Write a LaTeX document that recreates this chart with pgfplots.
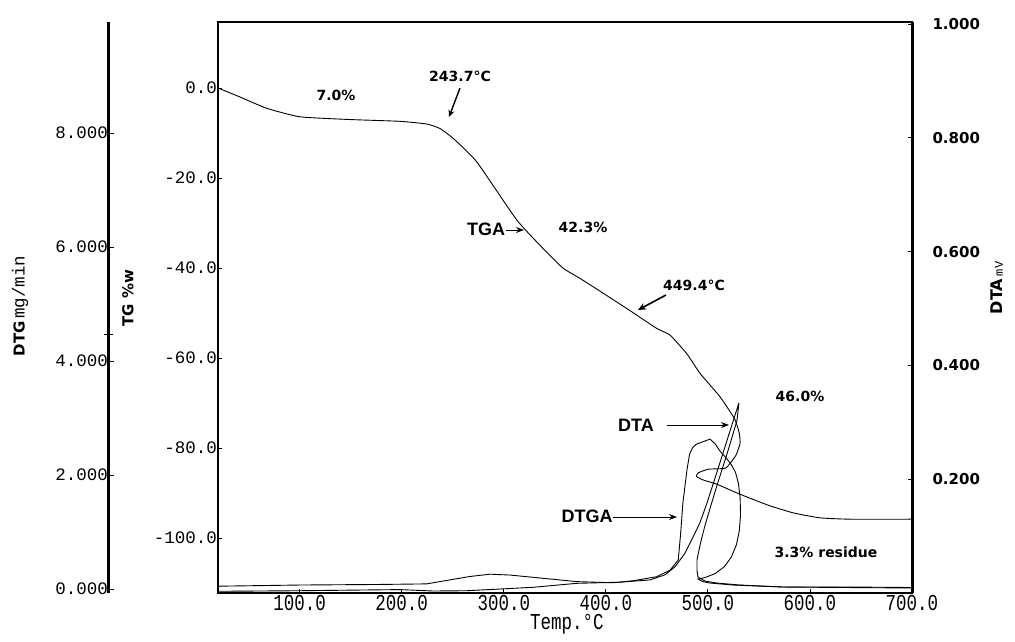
\documentclass[border=0pt]{standalone}
\usepackage{pgfplots}
\pgfplotsset{compat=1.18}
\usepackage{fontspec}
\usepackage{graphicx}
\setmainfont{Liberation Sans}
\setmonofont{Liberation Mono}
\newfontfamily\hand{DejaVu Sans}
\newfontfamily\arial{Liberation Sans}
\usetikzlibrary{arrows.meta}
\pgfplotsset{
  thermoframe/.style={at={(0pt,0pt)}, anchor=south west, scale only axis,
    width=694pt, height=571pt, xmin=20, xmax=700, clip=false},
}
\newcommand{\hw}{\hand\bfseries\fontsize{14}{14}\selectfont}
\newcommand{\lab}{\arial\bfseries\fontsize{18}{18}\selectfont}
\newcommand{\tk}{\ttfamily\fontsize{17.5}{18}\selectfont}
\begin{document}
\begin{tikzpicture}
\begin{scope}[x=1pt,y=-1pt,shift={(-218pt,593pt)}]
\useasboundingbox (0,0) rectangle (1015,641);
\end{scope}

% ---------- main TG axis ----------
\begin{axis}[thermoframe,
  ymin=-112.2, ymax=14.67,
  axis line style={line width=1.1pt},
  xtick={100,200,300,400,500,600,700},
  xticklabels={\scalebox{1}[1.3]{100.0},\scalebox{1}[1.3]{200.0},\scalebox{1}[1.3]{300.0},\scalebox{1}[1.3]{400.0},\scalebox{1}[1.3]{500.0},\scalebox{1}[1.3]{600.0},\scalebox{1}[1.3]{700.0}},
  ytick={-100,-80,-60,-40,-20,0},
  yticklabels={-100.0,-80.0,-60.0,-40.0,-20.0,0.0},
  tick align=inside, major tick length=4pt,
  xtick pos=left, ytick pos=left,
  tick style={line width=0.8pt, black},
  ticklabel style={font=\tk},
  xticklabel style={inner ysep=1pt, yshift=-1pt},
  yticklabel style={inner xsep=1pt},
]
\addplot[black, line width=0.9pt, smooth, tension=0.3] coordinates {
(20,0) (41.6,-2.0) (67.7,-4.5) (100.3,-6.4) (149.3,-7.0) (198.3,-7.4)
(224.5,-8.0) (237.5,-9.0) (250.5,-11.2) (273.5,-16.4) (312.7,-29.3)
(340,-36.0) (358,-40.0) (374.7,-42.3) (397.5,-45.6) (425.3,-49.7) (449.8,-53.4)
(462.9,-54.9) (479.2,-59.0) (492.3,-63.4) (511.9,-68.6) (524.9,-73.0)
(527.5,-74.2) (530.8,-76.7) (531.5,-79.0) (527.5,-81.6) (521.7,-83.4)
(516.8,-84.5) (500.4,-84.7) (490.6,-85.5) (488.8,-86.3) (495.5,-87.1)
(508.6,-88.0) (529.8,-90.1) (559.2,-92.7) (583.7,-94.4) (609.8,-95.5)
(639.2,-95.8) (700,-95.8)
};
\end{axis}

% ---------- DTA axis (right) ----------
\begin{axis}[thermoframe,
  ymin=0, ymax=1.0035,
  axis x line=none, axis y line*=right,
  axis line style={line width=3pt},
  ytick={0.2,0.4,0.6,0.8,1.0},
  yticklabels={0.200,0.400,0.600,0.800,1.000},
  tick align=inside, major tick length=4pt,
  tick style={line width=0.8pt, black},
  yticklabel style={font=\hand\bfseries\fontsize{15}{15}\selectfont, xshift=17pt},
]
\addplot[black, line width=0.9pt] coordinates {
(20,0.003) (100.3,0.004) (198.3,0.006) (230.7,0.0035) (263.7,0.004)
(328.6,0.010) (371.5,0.017) (413.9,0.019) (443.3,0.023) (458.0,0.032)
(467.8,0.046) (477.6,0.070) (485.4,0.098) (492.3,0.124) (499.1,0.158)
(507.9,0.207) (518.7,0.268) (530.4,0.334)
(528.5,0.303) (519.7,0.250) (508.9,0.189) (503.0,0.154) (497.2,0.119)
(492.3,0.084) (489.3,0.058) (489.3,0.040) (490.3,0.028)
(497.2,0.021) (508.9,0.0175) (531.5,0.014) (573.6,0.0105) (639.2,0.0096) (700,0.0088)
};
\end{axis}

% ---------- DTGA curve (DTG scale, hidden axis) ----------
\begin{axis}[thermoframe, ymin=-0.07, ymax=9.95, hide axis]
\addplot[black, line width=0.9pt] coordinates {
(20,0.04) (22,0.05) (100.3,0.07) (178.7,0.08) (224.5,0.09) (250.5,0.17)
(266.9,0.22) (286.5,0.26) (306.1,0.245) (328.9,0.205) (371.5,0.13)
(407.0,0.11) (426.9,0.145) (449.8,0.216) (462.9,0.33) (471.0,0.51)
(473.6,1.04) (475.5,1.51) (479.5,2.09) (482.0,2.36) (485.0,2.48) (488.5,2.54)
(502.1,2.63) (507,2.55) (511.9,2.42) (518,2.30) (523,2.18) (527,2.05)
(530,1.85) (531.6,1.60) (532.0,1.30) (530.8,1.02) (528,0.78) (523,0.56)
(516,0.39) (507,0.27) (497,0.20) (490.3,0.175) (495,0.13) (501.9,0.105)
(524.6,0.07) (573.6,0.035) (639.2,0.035) (700,0.026)
};
\end{axis}

% ---------- DTG axis (far left) ----------
\begin{axis}[at={(-109pt,0pt)}, anchor=south west, scale only axis,
  width=20pt, height=571pt,
  xmin=0, xmax=1, ymin=-0.07, ymax=9.95,
  axis x line=none, axis y line*=left,
  axis line style={line width=3pt},
  ytick={0,2,4,6,8},
  yticklabels={0.000,2.000,4.000,6.000,8.000},
  extra y ticks={4.46}, extra y tick labels={},
  extra y tick style={tick align=center, major tick length=9pt},
  tick align=inside, major tick length=5pt,
  tick style={line width=0.8pt, black},
  yticklabel style={font=\tk, inner xsep=1pt},
]
\addplot[draw=none] coordinates {(0.5,1)};
\end{axis}

% ---------- annotations (pixel coordinates) ----------
\begin{scope}[x=1pt,y=-1pt,shift={(-218pt,593pt)}]
\node[font=\hw] at (336,95) {7.0\%};
\node[font=\hw] at (460,76) {243.7°C};
\draw[line width=1.4pt, -{Stealth[length=7pt,width=6pt]}] (460,88) -- (449,117);
\node[font=\lab] at (486,229) {TGA};
\draw[line width=1pt, -{Stealth[length=8pt,width=6pt]}] (506,230) -- (524,230);
\node[font=\hw] at (583,227) {42.3\%};
\node[font=\hw] at (694,285) {449.4°C};
\draw[line width=1.6pt, -{Stealth[length=8pt,width=7pt]}] (666,295) -- (638,310);
\node[font=\hw] at (800,396) {46.0\%};
\node[font=\lab] at (636,425) {DTA};
\draw[line width=1pt, -{Stealth[length=8pt,width=6pt]}] (667,425) -- (729,425);
\node[font=\lab] at (587,516) {DTGA};
\draw[line width=1pt, -{Stealth[length=8pt,width=6pt]}] (613,517) -- (677,517);
\node[font=\hw] at (826,552) {3.3\% residue};
\node[font=\tk] at (567,624) {\scalebox{1}[1.3]{Temp.°C}};
\node[rotate=90, font=\hand\bfseries\fontsize{15}{15}\selectfont] at (128,298) {TG \%w};
\node[rotate=90] at (20,306) {{\hand\bfseries\fontsize{15}{15}\selectfont DTG}\ {\tk mg/min}};
\node[rotate=90] at (997,288) {{\hand\bfseries\fontsize{16}{16}\selectfont DTA}\ {\ttfamily\fontsize{12}{12}\selectfont mV}};
\end{scope}
\end{tikzpicture}
\end{document}
